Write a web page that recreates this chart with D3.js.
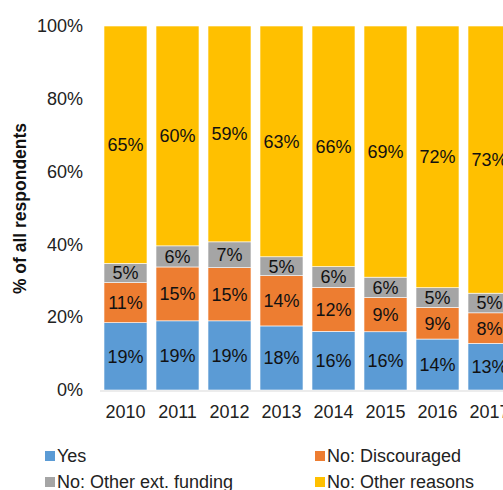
<!DOCTYPE html>
<html lang="en">
<head>
<meta charset="UTF-8">
<script src="https://cdnjs.cloudflare.com/ajax/libs/d3/7.9.0/d3.min.js"></script>
<title>Stacked Bars</title>
<style>
  body { margin: 0; background: #fff; font-family: "Liberation Sans", Arial, sans-serif; }
  svg { display: block; }
</style>
</head>
<body>
<div id="chart"></div>
<script>
const years = ["2010", "2011", "2012", "2013", "2014", "2015", "2016", "2017"];
const yes = [18.5, 19.0, 19.0, 17.6, 16.1, 16.0, 14.0, 12.8];
const discouraged = [11.0, 14.8, 14.6, 13.8, 12.1, 9.4, 8.7, 8.4];
const otherFunding = [5.3, 5.8, 7.1, 5.2, 5.7, 5.6, 5.4, 5.4];
const otherReasons = [65.2, 60.4, 59.3, 63.4, 66.1, 69.0, 71.9, 73.4];
const seriesNames = ["Yes", "No: Discouraged", "No: Other ext. funding", "No: Other reasons"];
const colors = ["#5b9bd5", "#ed7d31", "#a5a5a5", "#ffc000"];
const yTicks = [0, 20, 40, 60, 80, 100];

const width = 503, height = 490;
const fontSize = 18;
const svg = d3.select("#chart").append("svg")
  .attr("width", width).attr("height", height);

const x = d3.scaleBand()
  .domain(years)
  .range([99.5, 99.5 + 52 * years.length])
  .paddingInner(0.173)
  .paddingOuter(0.0865);

const y = d3.scaleLinear().domain([0, 100]).range([390, 26]);

// build rows for stacking
const rows = years.map((yr, i) => ({
  year: yr, s0: yes[i], s1: discouraged[i], s2: otherFunding[i], s3: otherReasons[i]
}));
const stack = d3.stack().keys(["s0", "s1", "s2", "s3"]);
const layers = stack(rows);

const groups = svg.selectAll("g.layer")
  .data(layers)
  .enter().append("g")
  .attr("class", "layer")
  .attr("fill", (d, i) => colors[i]);

groups.selectAll("rect")
  .data(d => d)
  .enter().append("rect")
  .attr("x", d => x(d.data.year))
  .attr("y", d => y(d[1]))
  .attr("width", x.bandwidth())
  .attr("height", d => y(d[0]) - y(d[1]))
  .attr("stroke", "#fff")
  .attr("stroke-width", 0.6);

groups.selectAll("text")
  .data(d => d)
  .enter().append("text")
  .attr("x", d => x(d.data.year) + x.bandwidth() / 2)
  .attr("y", d => (y(d[0]) + y(d[1])) / 2)
  .attr("dy", "0.36em")
  .attr("text-anchor", "middle")
  .attr("font-size", fontSize)
  .attr("fill", "#111")
  .text(d => Math.round(d[1] - d[0]) + "%");

// x axis
const xAxis = svg.append("g")
  .attr("transform", "translate(0,390.5)")
  .call(d3.axisBottom(x).tickSize(0).tickPadding(15));
xAxis.select(".domain").attr("stroke", "#d9d9d9").attr("stroke-width", 1.2);
xAxis.selectAll("text").attr("font-size", fontSize).attr("fill", "#222")
  .attr("font-family", "Liberation Sans, Arial, sans-serif");

// y axis
const yAxis = svg.append("g")
  .attr("transform", "translate(93,0)")
  .call(d3.axisLeft(y).tickValues(yTicks).tickSize(0).tickPadding(10).tickFormat(d => d + "%"));
yAxis.select(".domain").remove();
yAxis.selectAll("text").attr("font-size", fontSize).attr("fill", "#222")
  .attr("font-family", "Liberation Sans, Arial, sans-serif");

svg.append("text")
  .attr("transform", "translate(26,208.5) rotate(-90)")
  .attr("text-anchor", "middle")
  .attr("font-size", 17.5)
  .attr("font-weight", "bold")
  .attr("fill", "#111")
  .text("% of all respondents");

// legend
const legend = svg.append("g");
const legendPos = [[45, 456], [315, 456], [45, 482], [315, 482]];
seriesNames.forEach((name, i) => {
  const [lx, ly] = legendPos[i];
  legend.append("rect")
    .attr("x", lx).attr("y", ly - 5)
    .attr("width", 10).attr("height", 10)
    .attr("fill", colors[i]);
  legend.append("text")
    .attr("x", lx + 12).attr("y", ly)
    .attr("dy", "0.36em")
    .attr("font-size", fontSize)
    .attr("fill", "#222")
    .text(name);
});
</script>
</body>
</html>
